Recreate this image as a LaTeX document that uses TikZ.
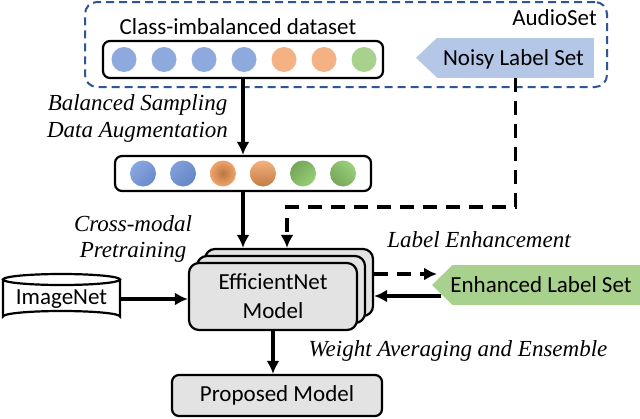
\documentclass[tikz,border=0pt]{standalone}
\usepackage{fontspec}
\setmainfont{Carlito}
\newfontfamily\tnr{Liberation Serif}
\usetikzlibrary{arrows.meta,calc}
\definecolor{dashblue}{HTML}{2F5597}
\definecolor{cblue}{HTML}{8EA9DB}
\definecolor{corange}{HTML}{F4B183}
\definecolor{cgreen}{HTML}{A9D18E}
\definecolor{noisyc}{HTML}{B4C7E7}
\definecolor{enhc}{HTML}{A9D18E}
\definecolor{boxgray}{HTML}{E3E3E3}
\definecolor{bla}{HTML}{89A8E0}
\definecolor{blb}{HTML}{6A8ACA}
\definecolor{blc}{HTML}{809FDA}
\definecolor{bld}{HTML}{6686C6}
\definecolor{ora}{HTML}{F0A46C}
\definecolor{orb}{HTML}{B9773F}
\definecolor{orc}{HTML}{F5B17F}
\definecolor{ord}{HTML}{C27C44}
\definecolor{gra}{HTML}{98CE78}
\definecolor{grb}{HTML}{73A658}
\definecolor{grc}{HTML}{9AD07B}
\definecolor{grd}{HTML}{76A65B}
\begin{document}
\begin{tikzpicture}[x=1pt,y=-1pt,
  every node/.style={font=\fontsize{23}{29}\selectfont, inner sep=0pt},
  lab/.style={font=\tnr\itshape\fontsize{23}{27}\selectfont, align=center},
  arr/.style={line width=3.2pt, -{Latex[length=13pt,width=13pt]}},
  darr/.style={arr, dash pattern=on 14pt off 9pt},
  setbox/.style={draw, line width=2.2pt, rounded corners=7pt},
  modelbox/.style={draw, line width=2.2pt, rounded corners=10pt, fill=boxgray,
    minimum width=168pt, minimum height=67pt, align=center},
  dot/.style={circle, minimum size=25pt},
  sdot/.style={circle, minimum size=26pt},
]
\useasboundingbox[fill=white] (0,0) rectangle (640,418);

% AudioSet dashed region
\node[draw=dashblue, line width=2pt, dash pattern=on 8pt off 5pt, rounded corners=12pt,
  minimum width=522pt, minimum height=85pt] (audioset) at (346,44.5) {};
\node[anchor=east] (astext) at (597,18) {AudioSet};
\node (cidtext) at (238,27) {Class-imbalanced dataset};

% class-imbalanced dataset
\node[setbox, minimum width=280pt, minimum height=37pt] (ds) at (243,59.5) {};
\foreach \x/\c [count=\i] in {124/cblue,164/cblue,204/cblue,244/cblue,284/corange,324/corange,364/cgreen}
  \node[dot, fill=\c] (d\i) at (\x,59.5) {};

% noisy label set
\fill[noisyc] (416,57.75) -- (437.5,37.5) -- (437.5,78) -- cycle;
\node[fill=noisyc, minimum width=157pt, minimum height=40.5pt] (noisy) at (515.5,57.75) {};
\node[text depth=0pt] (noisytxt) at (513.5,58) {Noisy Label Set};

% balanced dataset
\node[setbox, minimum width=256pt, minimum height=35pt] (box2) at (243,173.5) {};
\node[sdot, shading=axis, top color=blb, bottom color=bla, shading angle=-135] (e1) at (143,173.5) {};
\node[sdot, shading=axis, top color=bld, bottom color=blc, shading angle=-135] (e2) at (183,173.5) {};
\node[sdot, inner color=orb, outer color=ora] (e3) at (223,173.5) {};
\node[sdot, top color=orc, bottom color=ord] (e4) at (263,173.5) {};
\node[sdot, shading=axis, top color=grb, bottom color=gra, shading angle=45] (e5) at (303,173.5) {};
\node[sdot, shading=axis, top color=grc, bottom color=grd, shading angle=-45] (e6) at (343,173.5) {};

% model stack
\node[modelbox] (back) at (289,282.5) {};
\node[modelbox] (mid) at (281,289.5) {};
\node[modelbox] (front) at (273,296.5) {EfficientNet\\Model};

% ImageNet cylinder
\draw[line width=2.2pt, fill=white] (3,279.5) -- (3,316.5)
  arc[start angle=180, end angle=0, x radius=58.5pt, y radius=5.5pt] -- (120,279.5);
\draw[line width=2.2pt] (61.5,279.5) ellipse [x radius=58.5pt, y radius=5.5pt];
\node[minimum width=117pt, minimum height=48pt] (imgnet) at (61.5,299) {ImageNet};

% enhanced label set
\fill[enhc] (432,285) -- (452.5,265) -- (452.5,305) -- cycle;
\node[fill=enhc, minimum width=190pt, minimum height=40pt] (enh) at (547,285) {};
\node[text depth=0pt] (enhtxt) at (541,285) {Enhanced Label Set};

% proposed model
\node[setbox, fill=boxgray, minimum width=210pt, minimum height=41pt] (prop) at (277,395.5) {Proposed Model};

% labels
\node[lab] (l1) at (137.5,118) {Balanced Sampling\\Data Augmentation};
\node[lab, font=\tnr\itshape\fontsize{23}{26}\selectfont] (l2) at (133,239) {Cross-modal\\Pretraining};
\node[lab] (l3) at (479,240) {Label Enhancement};
\node[lab] (l4) at (458,351) {Weight Averaging and Ensemble};

% connectors
\coordinate (dl) at (287,207);
\coordinate (enhin) at (437,274);
\coordinate (enhout) at (441,296);
\draw[arr] (ds.south) -- (box2.north);
\draw[arr] (box2.south) -- (box2.south |- back.north);
\draw[darr] (noisy.south) |- (dl) -- (dl |- back.north);
\draw[arr] (imgnet.east) -- (imgnet.east -| front.west);
\draw[darr] (back.east |- enhin) -- (enhin);
\draw[arr] (enhout) -- (enhout -| back.east);
\draw[arr] (front.south) -- (front.south |- prop.north);
\end{tikzpicture}
\end{document}
